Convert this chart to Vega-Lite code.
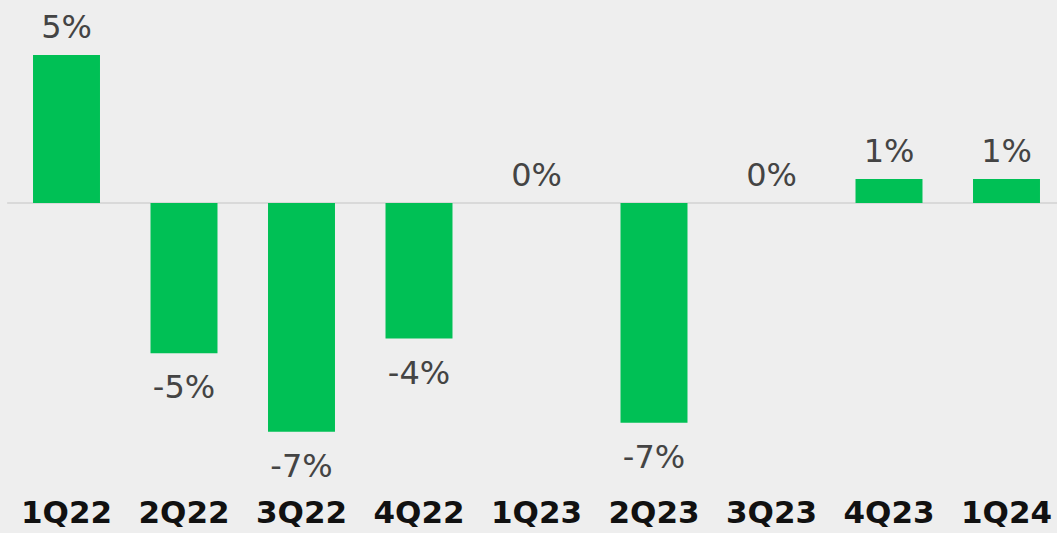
{
  "$schema": "https://vega.github.io/schema/vega-lite/v6.json",
  "autosize": "none",
  "width": 1057.5,
  "height": 480,
  "padding": {"left": 7.75, "top": 0, "right": 0, "bottom": 53},
  "background": "#eeeeee",
  "config": {"view": {"stroke": null}},
  "data": {"values": [
    {"quarter": "1Q22", "value": 5.0, "label": "5%"},
    {"quarter": "2Q22", "value": -5.08, "label": "-5%"},
    {"quarter": "3Q22", "value": -7.73, "label": "-7%"},
    {"quarter": "4Q22", "value": -4.58, "label": "-4%"},
    {"quarter": "1Q23", "value": 0.0, "label": "0%"},
    {"quarter": "2Q23", "value": -7.42, "label": "-7%"},
    {"quarter": "3Q23", "value": 0.0, "label": "0%"},
    {"quarter": "4Q23", "value": 0.81, "label": "1%"},
    {"quarter": "1Q24", "value": 0.81, "label": "1%"}
  ]},
  "layer": [
    {
      "mark": {"type": "rule", "color": "#d9d9d9", "strokeWidth": 2},
      "encoding": {"y": {"datum": 0, "type": "quantitative", "scale": {"domain": [-9.358, 6.858], "nice": false, "zero": false}, "axis": null}}
    },
    {
      "mark": {"type": "bar", "fill": "#00c055"},
      "encoding": {
        "x": {
          "field": "quarter", "type": "nominal", "sort": null,
          "scale": {"paddingInner": 0.43, "paddingOuter": 0.215},
          "axis": {
            "title": null, "domain": false, "ticks": false, "tickSize": 0, "grid": false,
            "labelAngle": 0, "labelFont": "DejaVu Sans", "labelFontWeight": "bold",
            "labelFontSize": 31, "labelColor": "#111111", "labelBaseline": "alphabetic",
            "labelPadding": 42
          }
        },
        "y": {"field": "value", "type": "quantitative", "axis": null}
      }
    },
    {
      "transform": [{"filter": "datum.value >= 0"}],
      "mark": {"type": "text", "font": "DejaVu Sans", "fontSize": 32, "color": "#444444", "baseline": "alphabetic", "dy": -17},
      "encoding": {
        "x": {"field": "quarter", "type": "nominal", "sort": null},
        "y": {"field": "value", "type": "quantitative"},
        "text": {"field": "label"}
      }
    },
    {
      "transform": [{"filter": "datum.value < 0"}],
      "mark": {"type": "text", "font": "DejaVu Sans", "fontSize": 32, "color": "#444444", "baseline": "alphabetic", "dy": 45},
      "encoding": {
        "x": {"field": "quarter", "type": "nominal", "sort": null},
        "y": {"field": "value", "type": "quantitative"},
        "text": {"field": "label"}
      }
    }
  ]
}
